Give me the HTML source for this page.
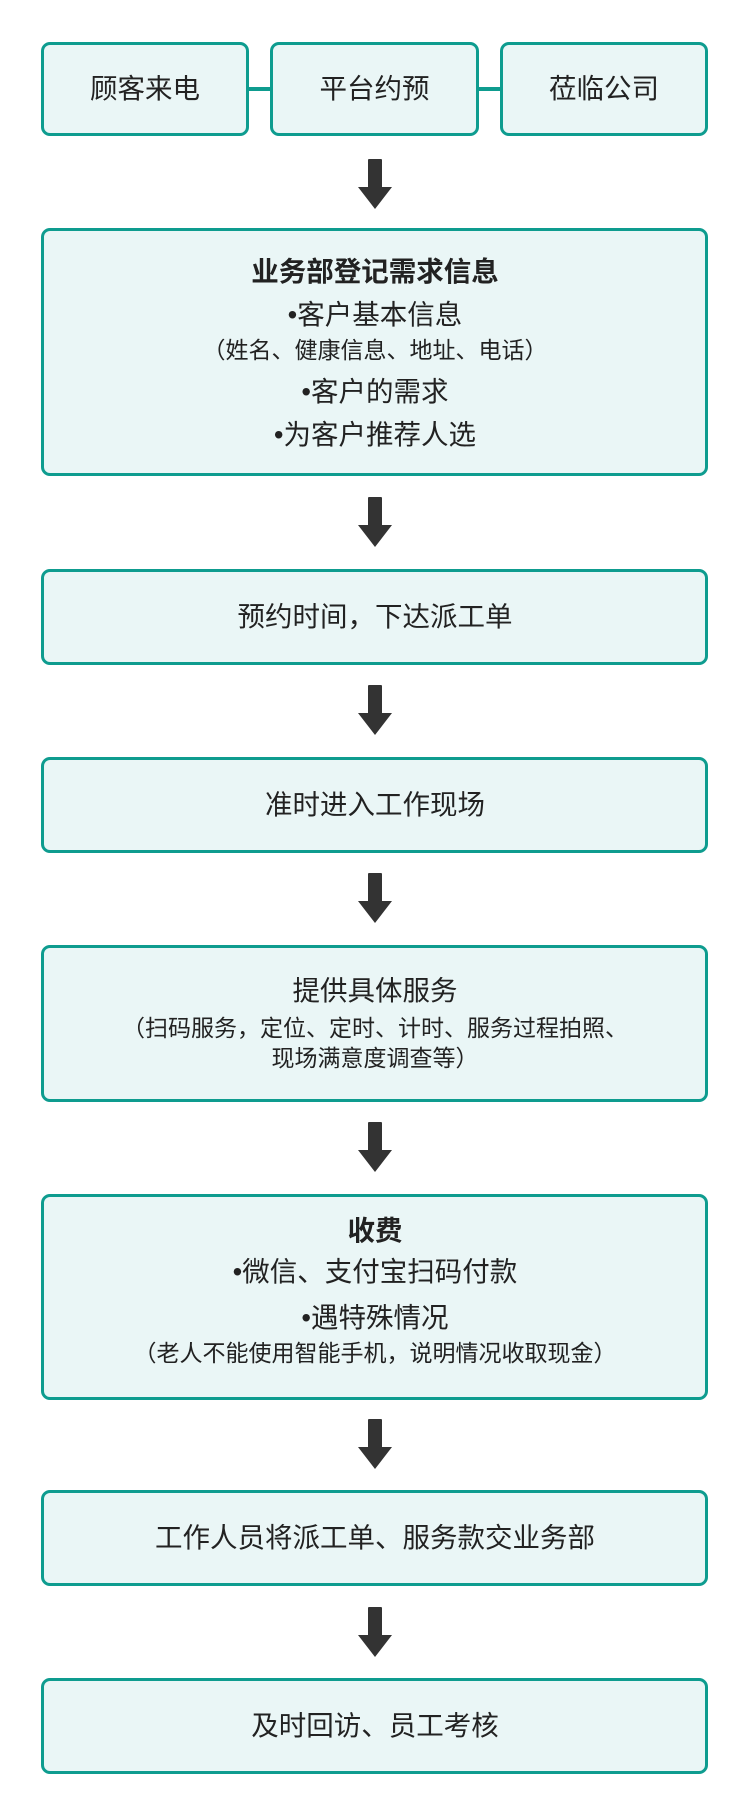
<!DOCTYPE html>
<html><head><meta charset="utf-8"><style>
body{margin:0;width:750px;height:1816px;background:#fff;position:relative;overflow:hidden;font-family:"Liberation Sans","Noto Sans CJK SC",sans-serif;color:#222}
.b{position:absolute;box-sizing:border-box;border:3.5px solid #0e9c8f;border-radius:9px;background:#eaf6f6}
.t{position:absolute;left:0;width:750px;text-align:center;font-size:27.5px;line-height:32px;white-space:nowrap}
.s{font-size:23px}
.bd{font-weight:bold}
.ln{position:absolute;height:4px;background:#0e9c8f}
</style></head><body>
<div class="b" style="left:41px;top:42px;width:208px;height:94px"></div>
<div class="b" style="left:270px;top:42px;width:209px;height:94px"></div>
<div class="b" style="left:500px;top:42px;width:208px;height:94px"></div>
<div class="ln" style="left:249px;top:87px;width:21px"></div>
<div class="ln" style="left:479px;top:87px;width:21px"></div>
<div class="t" style="left:41px;width:208px;top:73px">顾客来电</div>
<div class="t" style="left:270px;width:209px;top:73px">平台约预</div>
<div class="t" style="left:500px;width:208px;top:73px">莅临公司</div>

<svg width="750" height="1816" style="position:absolute;left:0;top:0" fill="#333">
<defs><path id="a" d="M369 0 h12 a1 1 0 0 1 1 1 V28 h10 L375 50 L358 28 h10 V1 a1 1 0 0 1 1 -1z"/></defs>
<use href="#a" y="159"/><use href="#a" y="497"/><use href="#a" y="685"/><use href="#a" y="873"/>
<use href="#a" y="1122"/><use href="#a" y="1419"/><use href="#a" y="1607"/>
</svg>

<div class="b" style="left:41px;top:228px;width:667px;height:248px"></div>
<div class="t bd" style="top:256px">业务部登记需求信息</div>
<div class="t" style="top:299px">•客户基本信息</div>
<div class="t s" style="top:334px">（姓名、健康信息、地址、电话）</div>
<div class="t" style="top:376px">•客户的需求</div>
<div class="t" style="top:419px">•为客户推荐人选</div>

<div class="b" style="left:41px;top:569px;width:667px;height:96px"></div>
<div class="t" style="top:601px">预约时间，下达派工单</div>

<div class="b" style="left:41px;top:757px;width:667px;height:96px"></div>
<div class="t" style="top:789px">准时进入工作现场</div>

<div class="b" style="left:41px;top:945px;width:667px;height:157px"></div>
<div class="t" style="top:975px">提供具体服务</div>
<div class="t s" style="top:1012px">（扫码服务，定位、定时、计时、服务过程拍照、</div>
<div class="t s" style="top:1042px">现场满意度调查等）</div>

<div class="b" style="left:41px;top:1194px;width:667px;height:206px"></div>
<div class="t bd" style="top:1215px">收费</div>
<div class="t" style="top:1256px">•微信、支付宝扫码付款</div>
<div class="t" style="top:1302px">•遇特殊情况</div>
<div class="t s" style="top:1337px">（老人不能使用智能手机，说明情况收取现金）</div>

<div class="b" style="left:41px;top:1490px;width:667px;height:96px"></div>
<div class="t" style="top:1522px">工作人员将派工单、服务款交业务部</div>

<div class="b" style="left:41px;top:1678px;width:667px;height:96px"></div>
<div class="t" style="top:1710px">及时回访、员工考核</div>
</body></html>
